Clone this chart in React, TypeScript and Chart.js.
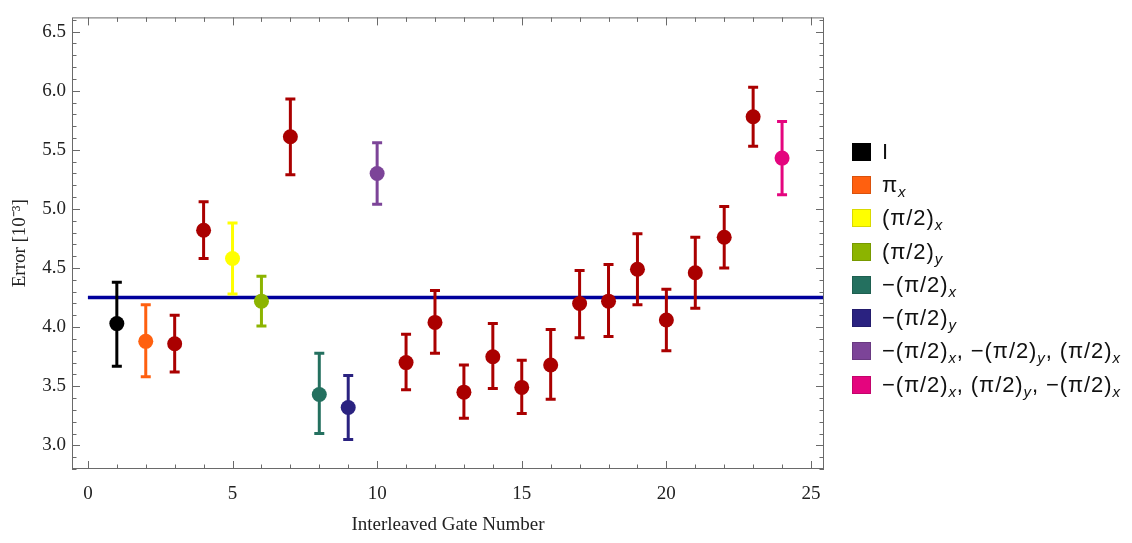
import React, { useEffect, useRef } from "react";
import { Chart, registerables } from "chart.js";
Chart.register(...registerables);

// ---- data ----
const gateNumbers = [1, 2, 3, 4, 5, 6, 7, 8, 9, 10, 11, 12, 13, 14, 15, 16, 17, 18, 19, 20, 21, 22, 23, 24];
const errorValues = [4.03, 3.88, 3.86, 4.82, 4.58, 4.22, 5.61, 3.43, 3.32, 5.30, 3.70, 4.04, 3.45, 3.75, 3.49, 3.68, 4.20, 4.22, 4.49, 4.06, 4.46, 4.76, 5.78, 5.43];
const errorLower = [3.67, 3.58, 3.62, 4.58, 4.28, 4.01, 5.29, 3.10, 3.05, 5.04, 3.47, 3.78, 3.23, 3.48, 3.27, 3.39, 3.91, 3.92, 4.19, 3.80, 4.16, 4.50, 5.53, 5.12];
const errorUpper = [4.38, 4.19, 4.10, 5.06, 4.88, 4.43, 5.93, 3.78, 3.59, 5.56, 3.94, 4.31, 3.68, 4.03, 3.72, 3.98, 4.48, 4.53, 4.79, 4.32, 4.76, 5.02, 6.03, 5.74];
// group index of each gate (8 = unlabelled random gates)
const pointGroup = [0, 1, 8, 8, 2, 3, 8, 4, 5, 6, 8, 8, 8, 8, 8, 8, 8, 8, 8, 8, 8, 8, 8, 7];
const groupLabels = [
  "I",
  "π_x",
  "(π/2)_x",
  "(π/2)_y",
  "−(π/2)_x",
  "−(π/2)_y",
  "−(π/2)_x, −(π/2)_y, (π/2)_x",
  "−(π/2)_x, (π/2)_y, −(π/2)_x",
  "",
];
const groupColors = ["#000000", "#ff600f", "#ffff00", "#8cb400", "#24705f", "#2a2280", "#7c4498", "#e4057e", "#aa0000"];
const referenceLevel = 4.25;
const xTickValues = [0, 5, 10, 15, 20, 25];
const yTickValues = [3.0, 3.5, 4.0, 4.5, 5.0, 5.5, 6.0, 6.5];
const xTitle = "Interleaved Gate Number";
const yTitle = "Error [10⁻³]";

const X_MIN = -0.55, X_MAX = 25.45, Y_MIN = 2.8, Y_MAX = 6.62;
const FRAME = "#6a6a6a";

const errorBarPlugin = {
  id: "errorBars",
  beforeDatasetDraw(chart: any, args: any) {
    const ds = chart.data.datasets[args.index];
    if (!ds.errorBars) return;
    const { ctx } = chart;
    const xs = chart.scales.x, ys = chart.scales.y;
    ctx.save();
    ctx.strokeStyle = ds.borderColor;
    ctx.lineWidth = 3;
    ctx.lineCap = "butt";
    ds.errorBars.forEach((e: any) => {
      const px = xs.getPixelForValue(e.x);
      const lo = ys.getPixelForValue(e.lo);
      const hi = ys.getPixelForValue(e.hi);
      ctx.beginPath();
      ctx.moveTo(px, lo);
      ctx.lineTo(px, hi);
      ctx.moveTo(px - 5, lo);
      ctx.lineTo(px + 5, lo);
      ctx.moveTo(px - 5, hi);
      ctx.lineTo(px + 5, hi);
      ctx.stroke();
    });
    ctx.restore();
  },
};

const framePlugin = {
  id: "frameTicks",
  afterDraw(chart: any) {
    const { ctx, chartArea: a } = chart;
    const xs = chart.scales.x, ys = chart.scales.y;
    ctx.save();
    ctx.strokeStyle = FRAME;
    ctx.lineWidth = 1;
    ctx.strokeRect(a.left + 0.5, a.top + 0.5, a.right - a.left - 1, a.bottom - a.top - 1);
    ctx.beginPath();
    for (let v = 0; v <= 25; v++) {
      const len = v % 5 === 0 ? 8 : 4.5;
      const px = Math.round(xs.getPixelForValue(v)) + 0.5;
      ctx.moveTo(px, a.bottom);
      ctx.lineTo(px, a.bottom - len);
      ctx.moveTo(px, a.top);
      ctx.lineTo(px, a.top + len);
    }
    for (let i = 28; i <= 66; i++) {
      const len = i % 5 === 0 ? 8 : 4.5;
      const py = Math.round(ys.getPixelForValue(i / 10)) + 0.5;
      ctx.moveTo(a.left, py);
      ctx.lineTo(a.left + len, py);
      ctx.moveTo(a.right, py);
      ctx.lineTo(a.right - len, py);
    }
    ctx.stroke();
    ctx.restore();
  },
};

function renderLabel(s: string) {
  const parts = s.split(/_([xy])/);
  return parts.map((p, i) =>
    i % 2 === 1 ? (
      <sub key={i} style={{ fontStyle: "italic", fontSize: "15px", verticalAlign: "-5px", lineHeight: 0 }}>{p}</sub>
    ) : (
      <span key={i}>{p}</span>
    )
  );
}

export default function App() {
  const ref = useRef<HTMLCanvasElement | null>(null);
  useEffect(() => {
    if (!ref.current) return;
    const datasets: any[] = [];
    for (let g = 0; g < groupColors.length; g++) {
      const idx = gateNumbers.map((_, i) => i).filter((i) => pointGroup[i] === g);
      datasets.push({
        type: "scatter",
        label: groupLabels[g],
        data: idx.map((i) => ({ x: gateNumbers[i], y: errorValues[i] })),
        errorBars: idx.map((i) => ({ x: gateNumbers[i], lo: errorLower[i], hi: errorUpper[i] })),
        backgroundColor: groupColors[g],
        borderColor: groupColors[g],
        pointRadius: 7.5,
        pointBorderWidth: 0,
        pointHoverRadius: 7.5,
      });
    }
    datasets.push({
      type: "line",
      label: "mean",
      data: [
        { x: 0, y: referenceLevel },
        { x: X_MAX + 1, y: referenceLevel },
      ],
      borderColor: "#00009c",
      borderWidth: 3.5,
      pointRadius: 0,
      fill: false,
    });
    const font = { family: "'Liberation Serif', 'Times New Roman', serif", size: 19 };
    const chart = new Chart(ref.current, {
      type: "scatter",
      data: { datasets },
      options: {
        animation: false,
        responsive: true,
        maintainAspectRatio: false,
        layout: { padding: { top: 14, right: 308, left: 0, bottom: 0 } },
        plugins: { legend: { display: false }, tooltip: { enabled: false } },
        events: [],
        scales: {
          x: {
            type: "linear",
            min: X_MIN,
            max: X_MAX,
            afterBuildTicks: (s: any) => {
              s.ticks = xTickValues.map((v) => ({ value: v }));
            },
            afterFit: (s: any) => {
              s.height = 74;
            },
            grid: { display: false, drawTicks: false, tickLength: 0 },
            border: { display: false },
            ticks: { font, color: "#222", padding: 14, maxRotation: 0, callback: (v: any) => String(v) },
            title: { display: true, text: xTitle, font, color: "#222", padding: { top: 0, bottom: 7 } },
          },
          y: {
            type: "linear",
            min: Y_MIN,
            max: Y_MAX,
            afterBuildTicks: (s: any) => {
              s.ticks = yTickValues.map((v) => ({ value: v }));
            },
            afterFit: (s: any) => {
              s.width = 72;
            },
            grid: { display: false, drawTicks: false, tickLength: 0 },
            border: { display: false },
            ticks: { font, color: "#222", padding: 6, callback: (v: any) => Number(v).toFixed(1) },
            title: { display: true, text: yTitle, font, color: "#222", padding: { top: 9, bottom: 0 } },
          },
        },
      },
      plugins: [errorBarPlugin, framePlugin],
    } as any);
    return () => chart.destroy();
  }, []);

  return (
    <div style={{ position: "fixed", left: 0, top: 0, width: 1132, height: 543, background: "#fff" }}>
      <canvas ref={ref} />
      <div
        style={{
          position: "absolute",
          left: 852,
          top: 135,
          fontFamily: "'Liberation Sans', Arial, sans-serif",
          fontSize: 22,
          letterSpacing: "0.9px",
          color: "#111",
        }}
      >
        {groupLabels.slice(0, 8).map((l, i) => (
          <div key={i} style={{ display: "flex", alignItems: "center", height: 33.3 }}>
            <span
              style={{
                display: "inline-block",
                flex: "none",
                width: 19,
                height: 18,
                background: groupColors[i],
                border: "1px solid rgba(0,0,0,0.15)",
                boxSizing: "border-box",
                marginRight: 11,
              }}
            />
            <span style={{ whiteSpace: "nowrap" }}>{renderLabel(l)}</span>
          </div>
        ))}
      </div>
    </div>
  );
}
